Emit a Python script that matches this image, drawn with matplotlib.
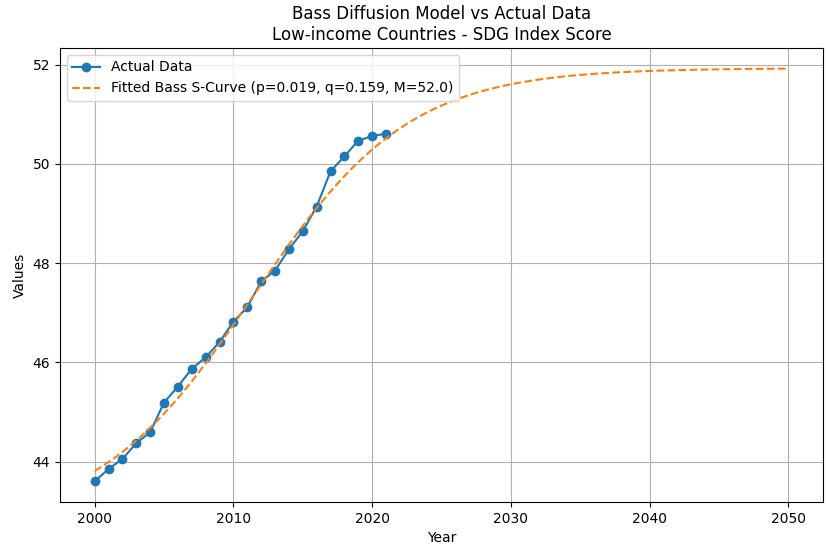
import numpy as np
import matplotlib
matplotlib.use("Agg")
import matplotlib.pyplot as plt

# SDG index score, low-income countries
years = np.arange(2000, 2022)
scores = [43.60, 43.85, 44.05, 44.37, 44.59, 45.19, 45.51, 45.87, 46.10, 46.41,
          46.82, 47.11, 47.63, 47.85, 48.28, 48.64, 49.14, 49.85, 50.15, 50.47,
          50.56, 50.61]

# fitted Bass parameters
p = 0.019
q = 0.159
M = 52.0
base = 43.73
span = 8.2
t0 = 1999.5


def bass_fraction(t, p, q):
    e = np.exp(-(p + q) * t)
    return (1 - e) / (1 + (q / p) * e)


fit_years = np.linspace(2000, 2050, 300)
fit_vals = base + span * bass_fraction(fit_years - t0, p, q)

fig = plt.figure(figsize=(8.26, 5.51), dpi=100)
ax = fig.add_axes([0.0726, 0.0889, 0.9238, 0.824])
ax.plot(years, scores, "o-", color="C0", label="Actual Data")
ax.plot(fit_years, fit_vals, "--", color="C1",
        label="Fitted Bass S-Curve (p=%.3f, q=%.3f, M=%.1f)" % (p, q, M))
ax.set_title("Bass Diffusion Model vs Actual Data\nLow-income Countries - SDG Index Score")
ax.set_xlabel("Year")
ax.set_ylabel("Values")
ax.legend(loc="upper left")
ax.grid(True)
fig.savefig("out.png", dpi=100)
